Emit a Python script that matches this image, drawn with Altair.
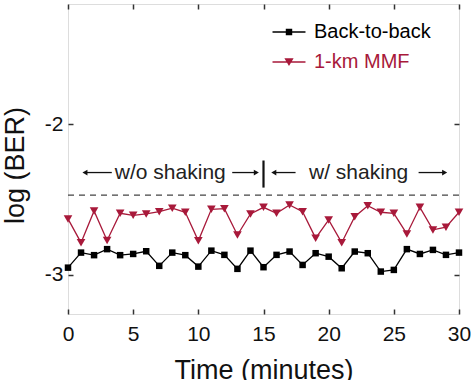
import altair as alt
import pandas as pd

FONT = "Liberation Sans"

# Measurements, one per minute
minutes = list(range(31))
back_to_back = [-2.952, -2.852, -2.869, -2.829, -2.869, -2.861, -2.843, -2.940,
                -2.852, -2.869, -2.945, -2.839, -2.867, -2.960, -2.839, -2.949,
                -2.867, -2.845, -2.934, -2.856, -2.879, -2.956, -2.845, -2.856,
                -2.978, -2.967, -2.829, -2.861, -2.834, -2.867, -2.852]
mmf_1km = [-2.628, -2.786, -2.575, -2.772, -2.591, -2.604, -2.595, -2.580,
           -2.557, -2.584, -2.774, -2.564, -2.560, -2.735, -2.595, -2.551,
           -2.591, -2.535, -2.580, -2.756, -2.635, -2.786, -2.613, -2.540,
           -2.584, -2.591, -2.728, -2.551, -2.701, -2.683, -2.584]

series_names = ["Back-to-back", "1-km MMF"]
series_colors = ["#000000", "#a8193a"]

x_ticks = [0, 5, 10, 15, 20, 25, 30]
y_ticks = [-3, -2]
x_domain = [0, 30]
y_domain = [-3.26, -1.2]

# Dashed threshold and the shaking / no-shaking annotation
threshold = [-2.47]
segment_labels = ["w/o shaking", "w/ shaking"]
segment_label_x = [7.85, 22.3]
annot_y = -2.32
arrow_tail = [3.36, 12.6, 17.46, 26.9]
arrow_tip = [1.05, 14.7, 15.54, 29.15]
divider_x = [15]
divider_y = [-2.24, -2.42]

df = pd.DataFrame({
    "minute": minutes * 2,
    "ber": back_to_back + mmf_1km,
    "series": [series_names[0]] * len(minutes) + [series_names[1]] * len(minutes),
})

xs = alt.Scale(domain=x_domain, nice=False, zero=False)
ys = alt.Scale(domain=y_domain, nice=False, zero=False)
cs = alt.Scale(domain=series_names, range=series_colors)

TICK = dict(domain=False, grid=False, tickSize=5, offset=-5,
            tickColor="#333333", tickWidth=1.5)

bottom_axis = alt.Axis(
    orient="bottom", values=x_ticks, labelFontSize=21, labelFont=FONT,
    labelColor="#111111", labelPadding=9, labelFlush=False, labelOverlap=False,
    title="Time (minutes)", titleFont=FONT, titleFontSize=27,
    titleFontWeight="normal", titleColor="#111111",
    titleBaseline="alphabetic", titleY=69, **TICK)
left_axis = alt.Axis(
    orient="left", values=y_ticks, labelExpr="toString(datum.value)",
    labelFontSize=21, labelFont=FONT,
    labelColor="#111111", labelPadding=5, labelOverlap=False,
    title="log (BER)", titleFont=FONT, titleFontSize=27,
    titleFontWeight="normal", titleColor="#111111", titleAngle=270,
    titleBaseline="middle", titleX=-58, titleY=161, **TICK)
top_axis = alt.Axis(orient="top", values=x_ticks, labels=False, title=None, **TICK)
right_axis = alt.Axis(orient="right", values=y_ticks, labels=False, title=None, **TICK)

base = alt.Chart(df)

lines = base.mark_line(strokeWidth=1.3).encode(
    x=alt.X("minute:Q", scale=xs, axis=bottom_axis),
    y=alt.Y("ber:Q", scale=ys, axis=left_axis),
    color=alt.Color("series:N", scale=cs, legend=None),
)

squares = base.transform_filter(
    alt.datum.series == series_names[0]
).mark_point(shape="square", filled=True, size=42, opacity=1).encode(
    x=alt.X("minute:Q", scale=xs, axis=top_axis),
    y=alt.Y("ber:Q", scale=ys, axis=right_axis),
    color=alt.Color("series:N", scale=cs, legend=None),
)

triangles = base.transform_filter(
    alt.datum.series == series_names[1]
).mark_point(shape="triangle-down", filled=True, size=75, opacity=1).encode(
    x=alt.X("minute:Q", scale=xs, axis=None),
    y=alt.Y("ber:Q", scale=ys, axis=None),
    color=alt.Color("series:N", scale=cs, legend=None),
)

# Legend keys: a thin filled bar (the line) plus the series marker
legend_paths = [
    "M-2,-0.09L2,-0.09L2,0.09L-2,0.09Z"
    "M-0.39,-0.39L0.39,-0.39L0.39,0.39L-0.39,0.39Z",
    "M-2,-0.09L2,-0.09L2,0.09L-2,0.09Z"
    "M-0.56,-0.46L0.56,-0.46L0,0.5Z",
]
label_color_expr = (f"datum.label == '{series_names[1]}' ? "
                    f"'{series_colors[1]}' : '{series_colors[0]}'")
key = alt.Legend(
    title=None, orient="none", legendX=211, legendY=18, padding=0,
    direction="vertical", symbolSize=272, symbolStrokeWidth=0,
    symbolFillColor=alt.ExprRef(expr=label_color_expr),
    labelFont=FONT, labelFontSize=20, labelOffset=15,
    labelColor=alt.ExprRef(expr=label_color_expr), rowPadding=10,
)
legend_layer = base.transform_filter("false").mark_point(
    filled=True, size=272, opacity=1, strokeWidth=0
).encode(
    x=alt.X("minute:Q", scale=xs, axis=None),
    y=alt.Y("ber:Q", scale=ys, axis=None),
    color=alt.Color("series:N", scale=cs, legend=key),
    shape=alt.Shape("series:N", scale=alt.Scale(domain=series_names, range=legend_paths), legend=key),
)

dashed = alt.Chart(pd.DataFrame({"level": threshold})).mark_rule(
    strokeDash=[6, 5], strokeWidth=1.3, color="#444444"
).encode(y=alt.Y("level:Q", scale=ys, axis=None))

divider = alt.Chart(pd.DataFrame({
    "x": divider_x, "y0": [divider_y[0]], "y1": [divider_y[1]]
})).mark_rule(strokeWidth=2.2, color="#111111").encode(
    x=alt.X("x:Q", scale=xs, axis=None),
    y=alt.Y("y0:Q", scale=ys, axis=None),
    y2="y1:Q",
)

arrows_df = pd.DataFrame({
    "tail": arrow_tail,
    "tip": arrow_tip,
    "y": [annot_y] * len(arrow_tail),
    "dir": ["left" if t < s else "right" for s, t in zip(arrow_tail, arrow_tip)],
})
arrows_df["head"] = [t + (0.25 if d == "left" else -0.25)
                     for t, d in zip(arrows_df["tip"], arrows_df["dir"])]

shafts = alt.Chart(arrows_df).mark_rule(strokeWidth=1.3, color="#111111").encode(
    x=alt.X("tail:Q", scale=xs, axis=None),
    x2="head:Q",
    y=alt.Y("y:Q", scale=ys, axis=None),
)
heads = alt.Chart(arrows_df).mark_point(filled=True, size=34, opacity=1, color="#111111").encode(
    x=alt.X("head:Q", scale=xs, axis=None),
    y=alt.Y("y:Q", scale=ys, axis=None),
    shape=alt.Shape("dir:N", scale=alt.Scale(domain=["left", "right"],
                                            range=["triangle-left", "triangle-right"]),
                    legend=None),
)

labels = alt.Chart(pd.DataFrame({
    "x": segment_label_x, "y": [annot_y] * len(segment_labels), "text": segment_labels
})).mark_text(font=FONT, fontSize=21, color="#222222", align="center",
              baseline="middle").encode(
    x=alt.X("x:Q", scale=xs, axis=None),
    y=alt.Y("y:Q", scale=ys, axis=None),
    text="text:N",
)

chart = alt.layer(
    dashed, divider, shafts, heads, labels, lines, squares, triangles, legend_layer
).resolve_axis(
    x="independent", y="independent"
).resolve_scale(
    shape="independent"
).properties(
    width=391, height=310,
    padding={"left": 68, "top": 4, "right": 12, "bottom": 66},
    autosize=alt.AutoSizeParams(type="none"),
).configure_view(
    stroke="#333333", strokeWidth=1.5
).configure(
    background="white"
)

chart.save("out.html", embed_options={"renderer": "svg", "actions": False})
